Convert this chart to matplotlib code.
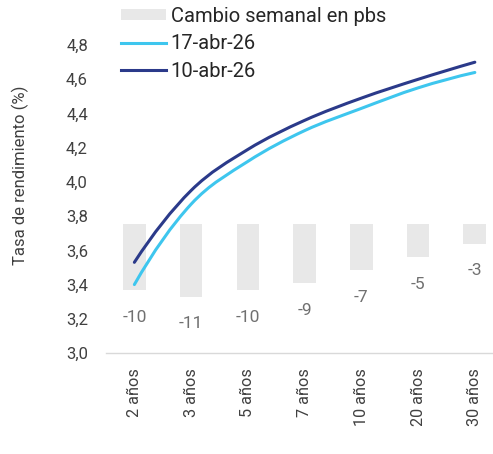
import matplotlib
matplotlib.use("Agg")
import matplotlib.pyplot as plt
from matplotlib.path import Path
from matplotlib.patches import PathPatch, Patch
from matplotlib.lines import Line2D
import numpy as np

plt.rcParams['font.family'] = ['Roboto', 'DejaVu Sans']

categories = ["2 años", "3 años", "5 años", "7 años", "10 años", "20 años", "30 años"]
curve_17abr = [3.40, 3.87, 4.12, 4.30, 4.43, 4.55, 4.64]
curve_10abr = [3.53, 3.95, 4.19, 4.36, 4.49, 4.60, 4.70]
cambio_pbs = [-10, -11, -10, -9, -7, -5, -3]
yticks = [3.0, 3.2, 3.4, 3.6, 3.8, 4.0, 4.2, 4.4, 4.6, 4.8]

C_LIGHT = "#3EC6EE"
C_DARK = "#2B3A8A"
C_BAR = "#E8E8E8"
C_TEXT = "#404040"

fig = plt.figure(figsize=(4.93, 4.54), dpi=100)
ax = fig.add_axes([0.215, 0.2225, 0.785, 0.7535])
ax2 = ax.twinx()
ax.set_zorder(ax2.get_zorder() + 1)
ax.patch.set_visible(False)

x = np.arange(len(categories))

# bars on secondary (hidden) axis
ax2.bar(x, cambio_pbs, width=0.4, color=C_BAR, zorder=1)
ax2.set_ylim(-19.55, 32.3)
ax2.axis('off')
for xi, v in zip(x, cambio_pbs):
    ax2.annotate(f"{v}", (xi, v), xytext=(0, -19.5), textcoords='offset points',
                 ha='center', va='center', fontsize=12.5, color="#707070")

def smooth_path(xs, ys):
    p = np.column_stack([xs, ys]).astype(float)
    n = len(p)
    m = np.zeros_like(p)
    m[0] = (-3 * p[0] + 4 * p[1] - p[2]) / 2.0
    m[-1] = (3 * p[-1] - 4 * p[-2] + p[-3]) / 2.0
    for i in range(1, n - 1):
        m[i] = (p[i + 1] - p[i - 1]) / 2.0
    verts = [p[0]]
    codes = [Path.MOVETO]
    for i in range(n - 1):
        verts += [p[i] + m[i] / 3.0, p[i + 1] - m[i + 1] / 3.0, p[i + 1]]
        codes += [Path.CURVE4] * 3
    return Path(verts, codes)

for data, col in [(curve_17abr, C_LIGHT), (curve_10abr, C_DARK)]:
    patch = PathPatch(smooth_path(x, data), facecolor='none', edgecolor=col,
                      lw=2.2, transform=ax.transData, zorder=3, capstyle='round')
    ax.add_patch(patch)

ax.set_xlim(-0.5, 6.32)
ax.set_ylim(3.0, 5.0)
ax.set_yticks(yticks)
ax.set_yticklabels([f"{t:.1f}".replace('.', ',') for t in yticks])
ax.set_xticks(x)
ax.set_xticklabels(categories, rotation=90, va='top', ha='center')
ax.tick_params(axis='both', length=0, colors=C_TEXT)
ax.tick_params(axis='y', pad=13, labelsize=12)
ax.tick_params(axis='x', pad=11, labelsize=11.7)
for s in ['top', 'right', 'left']:
    ax.spines[s].set_visible(False)
ax.spines['bottom'].set_color('#D9D9D9')
ax.spines['bottom'].set_linewidth(1.0)
ax.set_ylabel("Tasa de rendimiento (%)", fontsize=12, color=C_TEXT)
ax.yaxis.set_label_coords(-0.20, 0.52)

handles = [Patch(facecolor=C_BAR, edgecolor='none'),
           Line2D([], [], color=C_LIGHT, lw=2.2),
           Line2D([], [], color=C_DARK, lw=2.2)]
labels = ["Cambio semanal en pbs", "17-abr-26", "10-abr-26"]
leg = fig.legend(handles, labels, loc='upper left', bbox_to_anchor=(0.245, 0.985),
                 frameon=False, fontsize=14.5, handlelength=2.23, handleheight=0.5,
                 handletextpad=0.25, labelspacing=0.42, borderpad=0, borderaxespad=0)
for t in leg.get_texts():
    t.set_color("#262626")

fig.savefig("out.png", dpi=100)
